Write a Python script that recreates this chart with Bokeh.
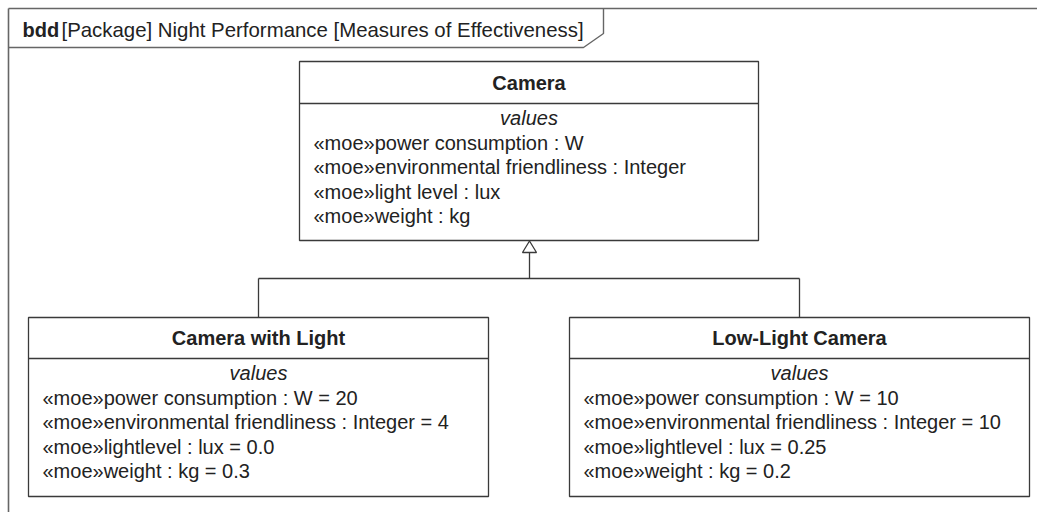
from bokeh.plotting import figure
from bokeh.models import Range1d
from bokeh.core.properties import value
from bokeh.embed import file_html
from bokeh.resources import INLINE

# ---- data ----
diagram_kind = "bdd"
diagram_title = "[Package] Night Performance [Measures of Effectiveness]"
block_names = ["Camera", "Camera with Light", "Low-Light Camera"]
compartment = "values"
stereotype = "\u00abmoe\u00bb"
camera_props = ["power consumption : W", "environmental friendliness : Integer",
                "light level : lux", "weight : kg"]
sub_props = ["power consumption : W", "environmental friendliness : Integer",
             "lightlevel : lux", "weight : kg"]
camera_with_light_values = ["20", "4", "0.0", "0.3"]
low_light_camera_values = ["10", "10", "0.25", "0.2"]

# ---- layout (page pixel coordinates) ----
FONT = value("Liberation Sans")
TXT = "#222222"
LINE = "#3a3a3a"
FS = "20px"

W, H = 1037, 512
p = figure(width=W, height=H, output_backend="svg", toolbar_location=None,
           x_range=Range1d(0, W), y_range=Range1d(H, 0),
           x_axis_type=None, y_axis_type=None, min_border=0,
           background_fill_color="white", border_fill_color="white")
p.grid.visible = False
p.outline_line_color = None

# frame
p.line([8, 8], [8, 520], line_color="#666666", line_width=1.6)
p.line([8, 1040], [8, 8], line_color="#666666", line_width=1.6)
p.line([8, 583, 603, 603], [47, 47, 33, 8], line_color="#666666", line_width=1.4)
p.text([22], [29], text=[diagram_kind], text_font=FONT, text_font_style="bold",
       text_font_size=FS, text_color=TXT, text_baseline="middle")
p.text([61], [29], text=[diagram_title], text_font=FONT,
       text_font_size="20.4px", text_color=TXT, text_baseline="middle")

boxes = [
    dict(name=block_names[0], l=299, r=758, t=61, b=240, sep=103,
         lines=[stereotype + s for s in camera_props]),
    dict(name=block_names[1], l=28, r=488, t=317, b=496, sep=358,
         lines=[stereotype + s + " = " + v for s, v in zip(sub_props, camera_with_light_values)]),
    dict(name=block_names[2], l=569, r=1029, t=317, b=496, sep=358,
         lines=[stereotype + s + " = " + v for s, v in zip(sub_props, low_light_camera_values)]),
]

for bx in boxes:
    p.quad(left=[bx["l"]], right=[bx["r"]], top=[bx["t"]], bottom=[bx["b"]],
           fill_color="white", line_color=LINE, line_width=1.3)
    p.segment(x0=[bx["l"]], x1=[bx["r"]], y0=[bx["sep"]], y1=[bx["sep"]],
              line_color=LINE, line_width=1.3)
    cx = (bx["l"] + bx["r"]) / 2
    p.text([cx], [(bx["t"] + bx["sep"]) / 2], text=[bx["name"]], text_font=FONT,
           text_font_style="bold", text_font_size=FS, text_color=TXT,
           text_align="center", text_baseline="middle")
    vy = bx["sep"] + 14.5
    p.text([cx], [vy], text=[compartment], text_font=FONT, text_font_style="italic",
           text_font_size=FS, text_color=TXT, text_align="center", text_baseline="middle")
    ys = [vy + 24.5 * (i + 1) for i in range(len(bx["lines"]))]
    p.text([bx["l"] + 14] * len(ys), ys, text=bx["lines"], text_font=FONT,
           text_font_size=FS, text_color=TXT, text_baseline="middle")

# generalization connectors
apex_x = 529
p.patch([apex_x, apex_x - 7, apex_x + 7], [240.5, 252, 252], fill_color="white",
        line_color=LINE, line_width=1.3)
p.line([apex_x, apex_x], [252, 278], line_color=LINE, line_width=1.3)
p.line([258, 799], [278, 278], line_color=LINE, line_width=1.3)
p.line([258, 258], [278, 317], line_color=LINE, line_width=1.3)
p.line([799, 799], [278, 317], line_color=LINE, line_width=1.3)

open("out.html", "w").write(file_html(p, INLINE))
